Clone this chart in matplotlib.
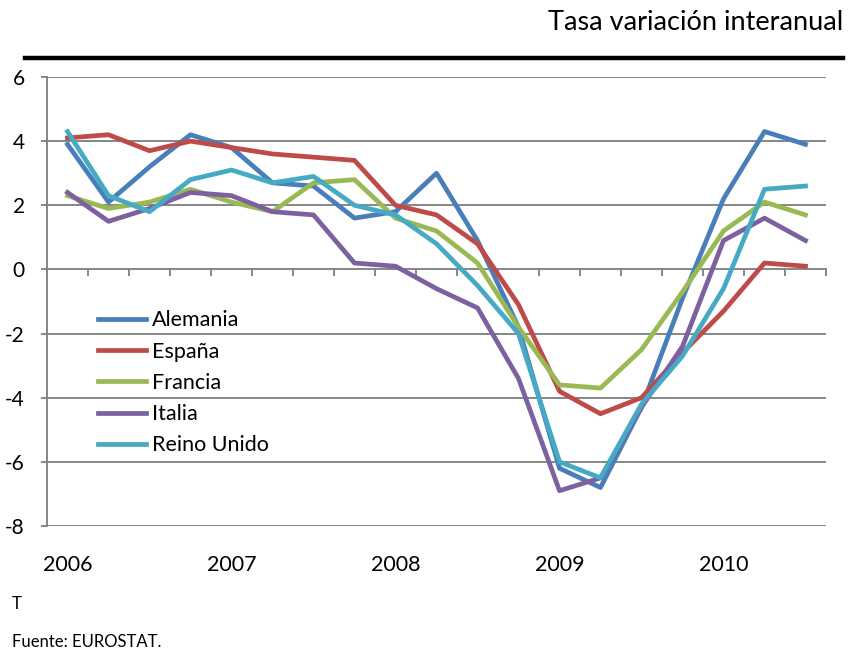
import numpy as np
import matplotlib.pyplot as plt
from matplotlib.lines import Line2D

plt.rcParams['font.family'] = ['Lato', 'DejaVu Sans']
plt.rcParams['axes.unicode_minus'] = False

# quarterly data, 2006 Q1 .. 2010 Q3
years = ['2006', '2007', '2008', '2009', '2010']
alemania = [3.9, 2.1, 3.2, 4.2, 3.8, 2.7, 2.6, 1.6, 1.8, 3.0, 0.9, -1.8, -6.2, -6.8, -4.3, -0.9, 2.2, 4.3, 3.9]
espana = [4.1, 4.2, 3.7, 4.0, 3.8, 3.6, 3.5, 3.4, 2.0, 1.7, 0.8, -1.1, -3.8, -4.5, -4.0, -2.6, -1.3, 0.2, 0.1]
francia = [2.3, 1.9, 2.1, 2.5, 2.1, 1.8, 2.7, 2.8, 1.6, 1.2, 0.2, -1.8, -3.6, -3.7, -2.5, -0.7, 1.2, 2.1, 1.7]
italia = [2.4, 1.5, 1.9, 2.4, 2.3, 1.8, 1.7, 0.2, 0.1, -0.6, -1.2, -3.4, -6.9, -6.5, -4.3, -2.4, 0.9, 1.6, 0.9]
reino_unido = [4.3, 2.3, 1.8, 2.8, 3.1, 2.7, 2.9, 2.0, 1.7, 0.8, -0.5, -2.0, -6.0, -6.5, -4.2, -2.7, -0.6, 2.5, 2.6]

series = [('Alemania', alemania, '#4A7EBB'),
          ('España', espana, '#BE4B48'),
          ('Francia', francia, '#98B954'),
          ('Italia', italia, '#7D60A0'),
          ('Reino Unido', reino_unido, '#46AAC5')]

grey = '#868686'

fig = plt.figure(figsize=(8.52, 6.51), dpi=100)
ax = fig.add_axes([47/852, 1-526/651, (826-47)/852, (526-77)/651])

n = len(alemania)
x = np.arange(n)
for name, vals, col in series:
    ax.plot(x, vals, color=col, lw=3.4, solid_joinstyle='round', label=name)

ax.set_xlim(-0.5, n - 0.5)
ax.set_ylim(-8, 6)
ax.set_yticks(np.arange(-8, 7, 2))
for v in [-8, -6, -4, -2, 2, 4, 6]:
    ax.axhline(v, color=grey, lw=1.4, zorder=0)

for s in ['top', 'right']:
    ax.spines[s].set_visible(False)
ax.spines['left'].set_color(grey)
ax.spines['left'].set_linewidth(1.4)
ax.spines['bottom'].set_position(('data', 0))
ax.spines['bottom'].set_color(grey)
ax.spines['bottom'].set_linewidth(1.4)
ax.spines['bottom'].set_zorder(0)

ax.set_xticks(np.arange(-0.5, n, 1))
ax.set_xticklabels([])
ax.tick_params(axis='x', direction='out', length=5, width=1.4, color=grey)
ax.tick_params(axis='y', direction='out', length=4, width=1.4, color=grey,
               labelsize=15, pad=12)

for i, yr in enumerate(years):
    ax.text(i * 4, -0.087, yr, transform=ax.get_xaxis_transform(),
            ha='center', va='center', fontsize=15.5)

handles = [Line2D([], [], color=c, lw=3.4) for _, _, c in series]
ax.legend(handles, [s[0] for s in series], loc='upper left',
          bbox_to_anchor=(0.066, 0.48), frameon=False, fontsize=15.5,
          handlelength=2.2, handletextpad=0.3, labelspacing=0.52,
          borderpad=0, borderaxespad=0)

fig.text(843/852, 1-22/651, 'Tasa variación interanual', ha='right', va='center', fontsize=19.5)
fig.add_artist(Line2D([25/852, 843/852], [1-58/651, 1-58/651], color='black', lw=3.2))
fig.text(12/852, 1-604/651, 'T', ha='left', va='center', fontsize=12)
fig.text(12/852, 1-642/651, 'Fuente: EUROSTAT.', ha='left', va='center', fontsize=12)

fig.savefig('out.png', dpi=100)
